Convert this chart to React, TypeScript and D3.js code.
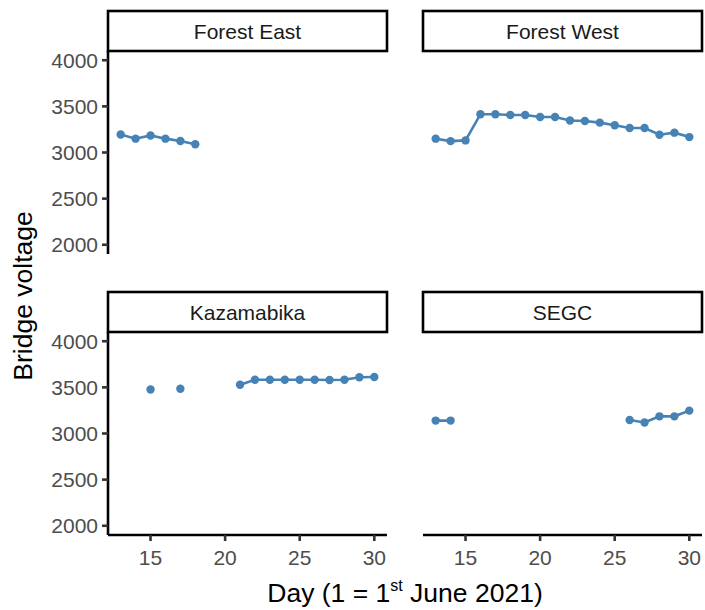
import React from 'react';
import * as d3 from 'd3';

// days 13..30 of June 2021, null where no reading
const days = [13, 14, 15, 16, 17, 18, 19, 20, 21, 22, 23, 24, 25, 26, 27, 28, 29, 30];
const forestEast = [3195, 3150, 3185, 3150, 3125, 3090, null, null, null, null, null, null, null, null, null, null, null, null];
const forestWest = [3150, 3123, 3131, 3415, 3415, 3407, 3407, 3385, 3385, 3346, 3342, 3324, 3295, 3265, 3265, 3193, 3215, 3167];
const kazamabika = [null, null, 3477, null, 3485, null, null, null, 3528, 3583, 3583, 3583, 3583, 3583, 3580, 3583, 3610, 3612];
const segc = [3140, 3140, null, null, null, null, null, null, null, null, null, null, null, 3146, 3120, 3186, 3186, 3248];

const siteNames = ['Forest East', 'Forest West', 'Kazamabika', 'SEGC'];
const siteValues = [forestEast, forestWest, kazamabika, segc];
const xTicks = [15, 20, 25, 30];
const yTicks = [2000, 2500, 3000, 3500, 4000];

const W = 705;
const H = 610;
const cols = [[108, 387], [423, 702]];
const rows = [[51, 254], [332, 535]];
const stripH = 40;
const FONT = "'Liberation Sans', Arial, sans-serif";
const COLOR = '#4682B4';

export default function App() {
  const xExt = d3.extent(days) as [number, number];
  const xPad = (xExt[1] - xExt[0]) * 0.05;
  const yPad = (4000 - 2000) * 0.05;

  const panels = siteNames.map((name, i) => {
    const [x0, x1] = cols[i % 2];
    const [y0, y1] = rows[Math.floor(i / 2)];
    const x = d3.scaleLinear().domain([xExt[0] - xPad, xExt[1] + xPad]).range([x0, x1]);
    const y = d3.scaleLinear().domain([2000 - yPad, 4000 + yPad]).range([y1, y0]);
    const pts = days.map((d, j) => ({ d, v: siteValues[i][j] }));
    const line = d3.line<{ d: number; v: number | null }>()
      .defined((p) => p.v != null)
      .x((p) => x(p.d))
      .y((p) => y(p.v as number));
    const showY = i % 2 === 0;
    const showX = Math.floor(i / 2) === 1;
    return (
      <g key={name}>
        <rect x={x0} y={y0 - stripH} width={x1 - x0} height={stripH} fill="#fff" stroke="#000" strokeWidth={2.6} />
        <text x={(x0 + x1) / 2} y={y0 - stripH / 2} dy="0.36em" textAnchor="middle" fontSize={21} fill="#1a1a1a">{name}</text>
        <path d={line(pts) || ''} fill="none" stroke={COLOR} strokeWidth={2.6} />
        {pts.filter((p) => p.v != null).map((p) => (
          <circle key={p.d} cx={x(p.d)} cy={y(p.v as number)} r={4.2} fill={COLOR} />
        ))}
        {showY && (
          <g>
            <line x1={x0} x2={x0} y1={y0} y2={y1} stroke="#000" strokeWidth={2.6} />
            {yTicks.map((t) => (
              <g key={t}>
                <line x1={x0 - 6} x2={x0} y1={y(t)} y2={y(t)} stroke="#333" strokeWidth={2.6} />
                <text x={x0 - 10} y={y(t)} dy="0.36em" textAnchor="end" fontSize={21} fill="#4d4d4d">{t}</text>
              </g>
            ))}
          </g>
        )}
        {showX && (
          <g>
            <line x1={x0} x2={x1} y1={y1} y2={y1} stroke="#000" strokeWidth={2.6} />
            {xTicks.map((t) => (
              <g key={t}>
                <line x1={x(t)} x2={x(t)} y1={y1} y2={y1 + 6} stroke="#333" strokeWidth={2.6} />
                <text x={x(t)} y={y1 + 30} textAnchor="middle" fontSize={21} fill="#4d4d4d">{t}</text>
              </g>
            ))}
          </g>
        )}
      </g>
    );
  });

  return (
    <svg width={W} height={H} style={{ position: 'absolute', left: 0, top: 0, display: 'block' }} fontFamily={FONT}>
      <rect width={W} height={H} fill="#fff" />
      {panels}
      <text x={(cols[0][0] + cols[1][1]) / 2} y={602} textAnchor="middle" fontSize={26.5} fill="#000">
        Day (1 = 1<tspan fontSize={16} dy={-11}>st</tspan><tspan dy={11}> June 2021)</tspan>
      </text>
      <text transform={`translate(32,296) rotate(-90)`} textAnchor="middle" fontSize={26.5} fill="#000">
        Bridge voltage
      </text>
    </svg>
  );
}
